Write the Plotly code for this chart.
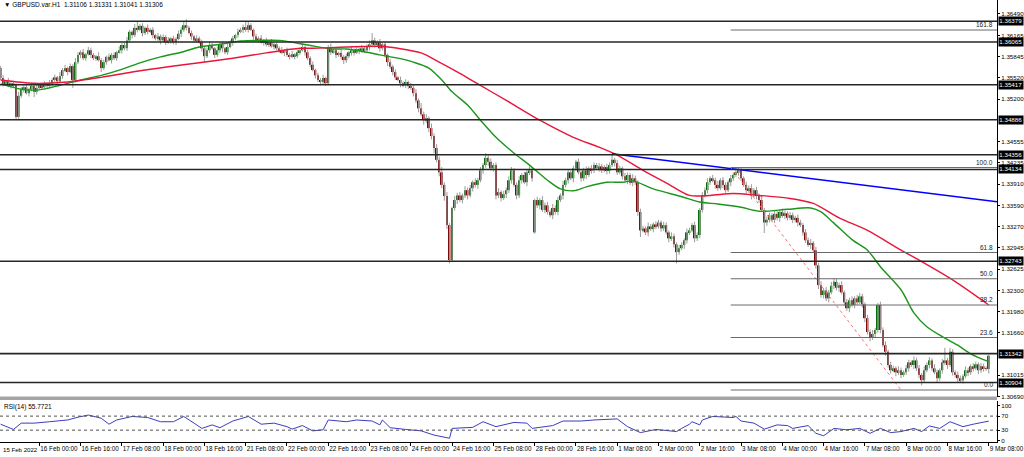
import plotly.graph_objects as go

# ---------------- data (prices in pips, 1 pip = 0.0001) ----------------
title_text = "GBPUSD.var.H1  1.31106 1.31331 1.31041 1.31306"
rsi_title = "RSI(14) 55.7721"

closes = [
    13552,13543,13547,13540,13544,13541,13493,13525,13534,13538,13529,13535,13540,13531,13537,13541,
    13538,13543,13540,13544,13549,13553,13547,13555,13564,13567,13561,13570,13549,13576,13587,13591,
    13582,13588,13594,13587,13582,13585,13579,13567,13576,13584,13579,13587,13582,13591,13594,13602,
    13597,13609,13622,13617,13628,13625,13631,13620,13628,13622,13625,13617,13612,13615,13609,13614,
    13606,13609,13612,13606,13611,13619,13625,13632,13628,13620,13615,13609,13612,13606,13597,13585,
    13594,13602,13597,13587,13594,13603,13597,13591,13599,13606,13612,13617,13622,13625,13629,13625,
    13632,13625,13615,13609,13612,13606,13609,13603,13606,13600,13603,13597,13594,13590,13594,13587,
    13584,13588,13585,13591,13594,13599,13591,13582,13572,13564,13556,13549,13546,13552,13544,13599,
    13591,13594,13587,13590,13584,13579,13585,13591,13594,13590,13596,13593,13597,13594,13599,13603,
    13609,13602,13606,13597,13603,13587,13576,13569,13561,13553,13549,13544,13541,13546,13540,13537,
    13529,13518,13506,13497,13488,13491,13476,13464,13446,13428,13409,13390,13373,13329,13276,13355,
    13367,13374,13367,13374,13382,13374,13385,13394,13390,13397,13412,13420,13431,13425,13415,13420,
    13374,13379,13370,13376,13382,13397,13412,13390,13374,13397,13405,13394,13409,13412,13400,13367,
    13359,13367,13352,13359,13349,13344,13355,13349,13367,13374,13390,13397,13409,13400,13415,13425,
    13409,13400,13412,13405,13415,13412,13420,13415,13418,13412,13417,13411,13420,13428,13423,13409,
    13415,13403,13397,13405,13393,13400,13394,13349,13321,13324,13318,13327,13323,13330,13327,13333,
    13324,13329,13318,13309,13312,13300,13288,13294,13299,13306,13318,13321,13329,13309,13314,13352,
    13374,13382,13394,13400,13397,13390,13385,13397,13390,13382,13394,13400,13405,13409,13412,13400,
    13390,13382,13385,13374,13382,13373,13367,13352,13333,13337,13344,13337,13346,13340,13349,13343,
    13347,13340,13344,13337,13340,13333,13329,13318,13306,13299,13302,13291,13268,13238,13223,13230,
    13218,13227,13237,13243,13234,13238,13227,13212,13203,13215,13208,13218,13212,13221,13209,13188,
    13167,13158,13164,13170,13208,13170,13147,13137,13117,13109,13112,13106,13109,13102,13106,13112,
    13121,13117,13124,13112,13102,13094,13109,13117,13124,13112,13106,13097,13109,13121,13124,13117,
    13137,13106,13102,13097,13094,13100,13109,13106,13115,13112,13118,13109,13115,13112,13111,13131,
]
wick_up = [
    3,4,2,5,3,2,3,6,4,3,5,2,4,3,5,2,
    3,4,2,5,3,4,2,6,3,5,2,4,3,6,4,3,
    5,2,5,4,3,2,6,3,4,2,5,3,4,2,6,3,
    4,5,3,2,6,10,3,4,2,5,3,4,2,5,3,4,
    3,5,2,4,3,5,4,6,9,3,4,2,5,3,4,3,
    4,5,3,2,6,3,4,2,5,3,4,2,5,3,4,8,
    5,3,2,4,3,5,2,4,3,5,2,4,3,5,2,4,
    3,5,2,4,3,6,2,4,3,5,2,4,3,5,2,3,
    5,3,4,2,6,3,4,2,5,3,4,2,5,3,4,6,
    11,4,3,5,3,4,2,5,3,4,2,5,3,4,2,5,
    4,6,3,8,4,6,3,7,4,6,5,8,4,6,3,2,
    6,4,5,3,6,4,5,3,6,4,5,3,7,4,5,3,
    4,6,3,5,4,6,5,3,4,6,3,5,4,6,3,2,
    5,3,6,4,5,3,6,4,5,3,6,4,5,3,4,3,
    5,3,4,6,3,5,4,3,5,4,3,5,4,9,3,5,
    4,3,5,4,3,6,4,3,5,4,3,6,4,3,5,4,
    3,5,4,3,6,4,3,5,4,3,6,4,3,5,4,3,
    5,4,6,3,5,4,6,3,5,4,3,5,4,6,5,4,
    3,5,4,6,3,5,4,6,3,5,4,3,5,4,3,5,
    4,3,5,4,3,5,4,3,5,4,6,3,5,4,6,3,
    5,4,6,6,5,4,6,3,5,4,6,3,5,5,4,3,
    5,4,6,3,3,5,4,6,3,5,4,3,6,4,3,5,
    4,3,6,4,5,3,6,4,5,3,6,4,3,5,19,4,
    6,4,3,5,4,3,6,4,3,5,4,3,5,4,3,2,
]
wick_dn = [
    3,4,3,2,4,3,5,3,3,4,2,5,3,8,4,2,
    4,3,5,2,4,3,5,2,4,3,5,2,12,4,3,5,
    3,4,2,5,3,4,2,6,3,4,2,5,3,4,2,5,
    3,4,2,5,3,4,2,5,3,4,2,5,3,4,6,3,
    4,2,5,3,4,2,5,3,4,2,5,3,4,2,5,10,
    3,4,2,5,3,4,6,3,4,2,5,3,4,2,5,3,
    4,2,5,3,4,2,5,3,4,2,5,3,4,2,5,3,
    4,2,5,3,4,2,5,3,4,2,5,3,5,4,4,3,
    4,2,5,3,4,6,4,3,5,4,2,5,3,4,2,5,
    3,4,2,5,3,4,6,3,5,4,2,6,3,4,5,3,
    5,4,6,3,7,4,6,5,8,4,6,5,7,6,5,3,
    4,6,3,5,4,6,3,5,4,6,3,5,4,6,3,5,
    6,4,5,3,6,4,5,3,6,4,5,3,6,4,5,2,
    4,6,3,5,4,3,6,4,5,3,6,4,5,3,6,4,
    3,5,4,6,3,5,4,3,5,4,3,5,4,3,5,4,
    3,5,4,6,3,5,4,6,10,3,4,6,3,5,4,3,
    5,4,3,6,4,5,17,4,3,6,5,4,3,6,4,5,
    4,3,5,4,3,6,4,3,5,4,3,6,4,3,5,4,
    3,5,4,6,3,5,4,3,16,5,4,3,5,4,6,3,
    5,4,3,5,4,6,3,5,4,3,6,4,5,6,4,5,
    4,6,3,5,4,6,3,5,4,6,3,5,4,3,5,6,
    4,5,3,6,4,5,3,6,4,5,3,6,4,5,3,4,
    5,3,6,4,5,8,4,3,5,4,3,6,4,5,4,6,
    3,5,4,6,4,5,3,6,4,5,3,6,4,5,3,7,
]
gap_open = {0: 13567, 207: 13318}   # opens that differ from previous close

# moving averages (bar index, price in pips)
ma_green_t = [0,8,15,23,31,39,46,54,62,70,77,85,93,101,108,119,128,134,142,147,
              154,160,166,171,175,181,186,192,199,205,212,217,222,227,235,241,245,253,264,271,
              278,287,294,305,314,318,323,330,336,341,349,354,359,365,371,376,383]
ma_green_p = [13543,13535,13534,13541,13549,13556,13564,13575,13584,13591,13599,13603,13608,13609,13609,13602,13596,13596,13591,13587,
              13582,13576,13567,13549,13531,13511,13488,13462,13438,13420,13397,13384,13381,13387,13394,13394,13396,13384,13372,13364,
              13361,13356,13350,13353,13355,13349,13332,13307,13291,13266,13231,13196,13175,13160,13147,13134,13122]
ma_red_t = [0,13,26,39,51,65,77,90,103,116,121,134,147,154,163,170,178,185,196,209,
            222,232,239,249,258,267,275,284,294,305,315,325,336,349,356,369,383]
ma_red_p = [13549,13544,13546,13553,13561,13569,13575,13582,13590,13597,13597,13599,13600,13597,13590,13576,13559,13543,13518,13488,
            13462,13447,13435,13412,13393,13374,13374,13377,13374,13370,13362,13340,13321,13291,13276,13246,13208]

# RSI(14)
rsi_t = [0,5,8,13,19,26,30,34,39,42,45,51,57,62,67,71,75,78,82,85,
         90,96,101,106,111,113,117,121,125,127,134,138,144,147,148,151,157,163,168,174,
         175,183,187,192,199,204,206,214,218,225,230,239,243,248,254,262,264,267,268,271,
         272,276,284,285,287,292,296,301,305,307,313,316,319,323,328,333,337,341,345,349,
         354,357,360,364,368,373,377,382,383]
rsi_v = [47,32,50,50,54,59,67,73,64,47,59,69,66,54,54,69,50,35,45,37,
         56,69,47,50,40,33,43,28,31,59,54,59,56,45,59,37,32,28,16,7,
         35,38,54,40,52,50,35,43,56,56,59,62,40,23,32,26,35,47,54,45,
         59,69,66,69,56,50,33,45,43,35,43,21,14,35,31,35,21,35,23,26,
         35,26,42,35,54,40,47,54,55.77]

# horizontal support / resistance levels
sr_levels = [1.36379, 1.36065, 1.35417, 1.34886, 1.34356, 1.34134, 1.32743, 1.31342, 1.30904]
sr_labels = ["1.36379", "1.36065", "1.35417", "1.34886", "1.34356", "1.34134", "1.32743", "1.31342", "1.30904"]

# trendline anchors (bar index, price)
trend_t = [237, 286]
trend_p = [1.34372, 1.34133]

# Fibonacci retracement
fib_t = [283, 349]
fib_hi = 1.34163
fib_lo = 1.30791
fib_levels = [0.0, 23.6, 38.2, 50.0, 61.8, 100.0, 161.8]

# axis ticks (the two scale labels hidden behind level boxes are omitted)
price_ticks = ["1.36490", "1.36165", "1.35845", "1.35520", "1.35200", "1.34555", "1.34235",
               "1.33910", "1.33590", "1.33270", "1.32945", "1.32625", "1.32300", "1.31980", "1.31660",
               "1.31015", "1.30690"]
time_tick_t = [15 + 16 * k for k in range(24)]
time_tick_labels = ["16 Feb 00:00", "16 Feb 16:00", "17 Feb 08:00", "18 Feb 00:00", "18 Feb 16:00",
                    "21 Feb 08:00", "22 Feb 00:00", "22 Feb 16:00", "23 Feb 08:00", "24 Feb 00:00",
                    "24 Feb 16:00", "25 Feb 08:00", "28 Feb 00:00", "28 Feb 16:00", "1 Mar 08:00",
                    "2 Mar 00:00", "2 Mar 16:00", "3 Mar 08:00", "4 Mar 00:00", "4 Mar 16:00",
                    "7 Mar 08:00", "8 Mar 00:00", "8 Mar 16:00", "9 Mar 08:00"]
first_label = "15 Feb 2022"

# ---------------- build ----------------
P = 10000.0
n = len(closes)
opens = [gap_open.get(i, closes[i - 1] if i > 0 else closes[0]) for i in range(n)]
highs = [max(opens[i], closes[i]) + wick_up[i] for i in range(n)]
lows = [min(opens[i], closes[i]) - wick_dn[i] for i in range(n)]
idx = list(range(n))

X_MIN, X_MAX = -0.233, 386.2
Y_MIN, Y_MAX = 1.30685, 1.36702
FONT = "Liberation Sans"
FS = 6.5
FSR = 6.2
H_PLOT = 442.0
W_PLOT = 997.0
main_dom = [1 - 397 / H_PLOT, 1.0]
rsi_dom = [0.0, 1 - 401 / H_PLOT]

fig = go.Figure()

# wicks
wx, wy = [], []
for i in idx:
    wx += [i, i, None]
    wy += [lows[i] / P, highs[i] / P, None]
fig.add_trace(go.Scatter(x=wx, y=wy, mode="lines", line=dict(color="#9a9a9a", width=1),
                         hoverinfo="skip", yaxis="y"))

# bodies
body_base = [min(opens[i], closes[i]) / P for i in idx]
body_h = [max(abs(closes[i] - opens[i]), 0.7) / P for i in idx]
body_col = ["#0b6b0b" if closes[i] >= opens[i] else "#7d0a0a" for i in idx]
fig.add_trace(go.Bar(x=idx, y=body_h, base=body_base, width=0.72,
                     marker=dict(color=body_col, line=dict(width=0)),
                     hoverinfo="skip", yaxis="y"))

# moving averages
fig.add_trace(go.Scatter(x=ma_green_t, y=[v / P for v in ma_green_p], mode="lines",
                         line=dict(color="#1a961a", width=1.4, shape="spline", smoothing=0.8),
                         hoverinfo="skip", yaxis="y"))
fig.add_trace(go.Scatter(x=ma_red_t, y=[v / P for v in ma_red_p], mode="lines",
                         line=dict(color="#e8163c", width=1.4, shape="spline", smoothing=0.8),
                         hoverinfo="skip", yaxis="y"))

# blue trendline (ray to the right edge)
slope = (trend_p[1] - trend_p[0]) / (trend_t[1] - trend_t[0])
fig.add_trace(go.Scatter(x=[trend_t[0], X_MAX], y=[trend_p[0], trend_p[0] + slope * (X_MAX - trend_t[0])],
                         mode="lines", line=dict(color="#0000ff", width=1.6),
                         hoverinfo="skip", yaxis="y"))

# fib diagonal
fig.add_trace(go.Scatter(x=fib_t, y=[fib_hi, fib_lo], mode="lines",
                         line=dict(color="#ff7070", width=1, dash="dot"),
                         hoverinfo="skip", yaxis="y"))

# RSI
fig.add_trace(go.Scatter(x=rsi_t, y=rsi_v, mode="lines", line=dict(color="#3c3cc0", width=1),
                         hoverinfo="skip", yaxis="y2"))

shapes = []
annotations = []

# S/R lines + right labels
for lv, lb in zip(sr_levels, sr_labels):
    shapes.append(dict(type="line", xref="paper", x0=0, x1=1, yref="y", y0=lv, y1=lv,
                       line=dict(color="#262626", width=1.6)))
    annotations.append(dict(xref="paper", x=1 + 1 / W_PLOT, xanchor="left", yref="y", y=lv,
                            yanchor="middle", text=lb, showarrow=False, bgcolor="#000000",
                            borderpad=0.3, font=dict(family=FONT, size=FSR, color="#ffffff")))

# fib levels
for lvl in fib_levels:
    pr = fib_lo + (fib_hi - fib_lo) * lvl / 100.0
    shapes.append(dict(type="line", xref="x", x0=fib_t[0], x1=X_MAX, yref="y", y0=pr, y1=pr,
                       line=dict(color="#6a6a6a", width=1)))
    annotations.append(dict(xref="paper", x=1 - 2 / W_PLOT, xanchor="right", yref="y", y=pr,
                            yanchor="bottom", text="%.1f" % lvl, showarrow=False,
                            font=dict(family=FONT, size=FS, color="#202020")))

# RSI levels
for lv in (30, 70):
    shapes.append(dict(type="line", xref="paper", x0=0, x1=1, yref="y2", y0=lv, y1=lv,
                       line=dict(color="#505050", width=1, dash="dot")))

# panel separator
shapes.append(dict(type="rect", xref="paper", x0=0, x1=1, yref="paper",
                   y0=1 - 400 / H_PLOT, y1=1 - 396.5 / H_PLOT,
                   fillcolor="#a4a4a4", line=dict(width=0)))

annotations.append(dict(xref="paper", x=2 / W_PLOT, xanchor="left", yref="paper", y=1 - 5 / H_PLOT,
                        yanchor="middle", text="\u25bc " + title_text, showarrow=False,
                        font=dict(family=FONT, size=FS, color="#000000")))
annotations.append(dict(xref="paper", x=2 / W_PLOT, xanchor="left", yref="paper", y=1 - 407 / H_PLOT,
                        yanchor="middle", text=rsi_title, showarrow=False,
                        font=dict(family=FONT, size=FS, color="#000000")))
annotations.append(dict(xref="paper", x=0.5 / W_PLOT, xanchor="left", yref="paper", y=-7.5 / H_PLOT,
                        yanchor="middle", text=first_label, showarrow=False,
                        font=dict(family=FONT, size=6.1, color="#000000")))

fig.update_layout(
    width=1024, height=457,
    margin=dict(l=0, r=27, t=0, b=15, pad=0, autoexpand=False),
    paper_bgcolor="#ffffff", plot_bgcolor="#ffffff",
    showlegend=False, barmode="overlay",
    shapes=shapes, annotations=annotations,
    xaxis=dict(range=[X_MIN, X_MAX], anchor="y2", tickvals=time_tick_t, ticktext=time_tick_labels,
               ticks="outside", ticklen=3, tickcolor="#000000", ticklabelposition="outside right",
               ticklabeloverflow="allow", tickangle=0, automargin=False,
               tickfont=dict(family=FONT, size=6.3, color="#000000"),
               showgrid=False, zeroline=False, showline=True, linecolor="#000000", linewidth=1),
    yaxis=dict(domain=main_dom, range=[Y_MIN, Y_MAX], side="right", anchor="x",
               tickvals=[float(t) for t in price_ticks], ticktext=price_ticks,
               ticks="outside", ticklen=2, tickcolor="#000000", automargin=False,
               ticklabeloverflow="allow",
               tickfont=dict(family=FONT, size=FSR, color="#000000"),
               showgrid=False, zeroline=False, showline=True, linecolor="#000000", linewidth=1),
    yaxis2=dict(domain=rsi_dom, range=[-3.7, 113], side="right", anchor="x",
                tickvals=[0, 30, 70, 100], ticktext=["0", "30", "70", "100"],
                ticks="outside", ticklen=2, tickcolor="#000000", automargin=False,
                tickfont=dict(family=FONT, size=FSR, color="#000000"),
                showgrid=False, zeroline=False, showline=True, linecolor="#000000", linewidth=1),
)

fig.write_html("out.html", config={"displayModeBar": False},
               post_script="document.body.style.margin='0px';document.body.style.overflow='hidden';")
